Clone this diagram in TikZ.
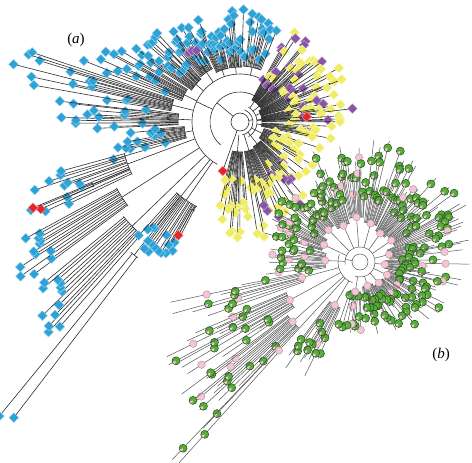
\documentclass[tikz,border=0pt]{standalone}
\usepackage{fontspec}
\setmainfont{Liberation Serif}
\usetikzlibrary{shapes.geometric}

\definecolor{blueC}{RGB}{45,162,215}
\definecolor{yellowC}{RGB}{240,237,100}
\definecolor{purpleC}{RGB}{136,84,166}
\definecolor{redC}{RGB}{232,36,40}
\definecolor{greenC}{RGB}{88,172,58}
\definecolor{gdark}{RGB}{28,78,20}
\definecolor{pinkC}{RGB}{246,196,212}
\definecolor{lineA}{RGB}{45,45,45}
\definecolor{lineB}{RGB}{85,85,85}

\tikzset{
  branch/.style={draw=lineA, line width=0.6pt},
  leafB/.style={diamond, aspect=1, inner sep=0pt, minimum size=10pt, fill=blueC, draw=blueC!45!white, line width=0.4pt},
  leafY/.style={leafB, fill=yellowC, draw=yellowC!45!white},
  leafP/.style={leafB, fill=purpleC, draw=purpleC!45!white},
  leafR/.style={leafB, fill=redC, draw=redC!45!white},
  leafYP/.code={\pgfmathtruncatemacro\pick{rnd<0.22?1:0}\ifnum\pick=1 \tikzset{leafP}\else\tikzset{leafY}\fi},
  leafG/.style={circle, inner sep=0pt, minimum size=8pt, fill=greenC, draw=gdark, line width=0.5pt,
    path picture={\fill[pinkC] (path picture bounding box.center) -- ++(200:5pt) arc[start angle=200, end angle=255, radius=5pt] -- cycle;}},
  knotP/.style={circle, inner sep=0pt, minimum size=7.5pt, fill=pinkC, draw=gray!70!pinkC, line width=0.4pt},
  leafGP/.code={\pgfmathtruncatemacro\pick{rnd<0.15?1:0}\ifnum\pick=1 \tikzset{knotP}\else\tikzset{leafG}\fi},
  knot/.style={coordinate},
  lab/.style={font=\fontsize{15}{17}\selectfont},
}

\newcommand\slack{0}
% centre, first angle, last angle, arc radius, leaves, min radius, max radius, leaf style, stem radius
\newcommand\clade[9]{%
  \pgfmathsetmacro\cmid{(#2+#3)/2}%
  \pgfmathsetmacro\cstem{#4-#9}%
  \draw[branch] (#1) ++(\cmid:#9) -- ++(\cmid:\cstem);
  \draw[branch] (#1) ++(#2:#4) arc[start angle=#2, end angle=#3, radius=#4];
  \foreach \k in {1,...,#5}{%
    \pgfmathsetmacro\cang{#2+(#3-#2)*(\k-0.5+0.6*(rnd-0.5))/#5}%
    \pgfmathsetmacro\clen{#6+(#7-#6)*rnd-#4}%
    \pgfmathsetmacro\cpos{1-\slack*rnd}%
    \draw[branch] (#1) ++(\cang:#4) -- ++(\cang:\clen) node[pos=\cpos, #8] (leaf\k) {};
  }
  \path (#1) ++(\cmid:#4) node[knot] (knot) {};
}

\begin{document}
\begin{tikzpicture}[x=1pt, y=1pt, yscale=-1]
  \useasboundingbox (0,0) rectangle (472,463);
  \pgfmathsetseed{11}

  % tree (a)
  \coordinate (ca) at (240,122);
  \draw[branch] (ca) circle[radius=9];
  \draw[branch] (ca) ++(290:13) arc[start angle=290, end angle=440, radius=13];
  \draw[branch] (ca) ++(300:17) arc[start angle=300, end angle=420, radius=17];
  \draw[branch] (ca) ++(130:30) arc[start angle=130, end angle=320, radius=30];
  \draw[branch] (ca) ++(118:48) arc[start angle=118, end angle=294, radius=48];
  \draw[branch] (ca) ++(220:9) -- ++(220:21);
  \draw[branch] (ca) ++(205:30) -- ++(205:18);
  \draw[branch] (ca) ++(350:9) -- ++(350:4);

  \clade{ca}{163}{176}{56}{14}{75}{135}{leafB}{48}
  \clade{ca}{177}{188}{62}{14}{90}{200}{leafB}{48}
  \clade{ca}{189}{199}{70}{14}{110}{238}{leafB}{48}
  \clade{ca}{200}{212}{62}{15}{80}{170}{leafB}{48}
  \clade{ca}{213}{228}{58}{18}{70}{140}{leafB}{48}
  \clade{ca}{229}{243}{60}{16}{65}{122}{leafB}{48}
  \clade{ca}{244}{258}{55}{16}{65}{116}{leafB}{48}
  \clade{ca}{259}{272}{55}{16}{70}{114}{leafB}{48}
  \clade{ca}{273}{292}{56}{18}{65}{110}{leafB}{48}
  \clade{ca}{232}{240}{66}{3}{80}{88}{leafP}{60}

  \clade{ca}{298}{312}{25}{16}{45}{105}{leafYP}{17}
  \clade{ca}{313}{328}{25}{16}{45}{110}{leafYP}{17}
  \clade{ca}{329}{345}{22}{18}{40}{115}{leafYP}{17}
  \clade{ca}{346}{360}{22}{18}{50}{118}{leafYP}{17}
  \clade{ca}{362}{372}{22}{10}{40}{95}{leafY}{17}
  \clade{ca}{375}{400}{25}{18}{35}{85}{leafY}{13}
  \clade{ca}{402}{422}{28}{18}{50}{105}{leafYP}{13}
  \clade{ca}{423}{442}{30}{18}{60}{122}{leafYP}{13}
  \clade{ca}{445}{465}{30}{18}{55}{118}{leafY}{13}
  \clade{ca}{354}{356}{30}{1}{67}{67}{leafR}{17}
  \clade{ca}{108}{110}{20}{1}{52}{52}{leafR}{9}

  \clade{ca}{154}{165}{120}{12}{170}{230}{leafB}{48}
  \clade{ca}{143}{152}{140}{12}{215}{270}{leafB}{48}
  \clade{ca}{131}{141}{150}{12}{235}{285}{leafB}{48}
  \clade{ca}{127}{130}{170}{2}{370}{383}{leafB}{48}
  \clade{ca}{117}{132}{95}{16}{130}{160}{leafB}{48}
  \clade{ca}{156}{158}{160}{2}{216}{225}{leafR}{120}
  \clade{ca}{117}{119}{100}{1}{129}{129}{leafR}{95}

  % tree (b)
  \renewcommand\slack{0.3}
  \tikzset{branch/.style={draw=lineB, line width=0.5pt}, knot/.style={knotP}}
  \coordinate (cb) at (360,262);
  \draw[branch] (cb) circle[radius=8];
  \draw[branch] (cb) ++(170:15) arc[start angle=170, end angle=470, radius=15];
  \draw[branch] (cb) ++(110:22) arc[start angle=110, end angle=200, radius=22];
  \draw[branch] (cb) ++(190:8) -- ++(190:7);

  \clade{cb}{170}{195}{35}{16}{50}{95}{leafGP}{15}
  \clade{cb}{196}{215}{40}{16}{55}{100}{leafGP}{15}
  \clade{cb}{216}{235}{45}{16}{60}{112}{leafGP}{15}
  \clade{cb}{236}{255}{40}{16}{60}{120}{leafGP}{15}
  \clade{cb}{256}{275}{45}{16}{65}{122}{leafGP}{15}
  \clade{cb}{276}{295}{40}{16}{65}{125}{leafGP}{15}
  \clade{cb}{296}{315}{35}{16}{55}{120}{leafGP}{15}
  \clade{cb}{316}{335}{38}{16}{55}{122}{leafGP}{15}
  \clade{cb}{336}{355}{30}{16}{45}{112}{leafGP}{15}
  \clade{cb}{356}{375}{25}{14}{40}{112}{leafGP}{15}
  \clade{cb}{376}{395}{30}{14}{40}{95}{leafGP}{15}
  \clade{cb}{396}{420}{28}{16}{38}{90}{leafGP}{15}
  \clade{cb}{420}{445}{25}{16}{35}{80}{leafGP}{15}
  \clade{cb}{448}{470}{30}{12}{35}{75}{leafGP}{15}

  \renewcommand\slack{0.45}
  \clade{cb}{160}{170}{60}{8}{110}{200}{leafGP}{22}
  \clade{cb}{145}{158}{80}{14}{120}{220}{leafGP}{22}
  \clade{cb}{133}{144}{90}{14}{130}{230}{leafGP}{22}
  \clade{cb}{131}{134}{120}{2}{262}{280}{leafGP}{22}
  \clade{cb}{113}{128}{50}{12}{80}{130}{leafGP}{22}

  \node[lab] (labA) at (76,40) {(\textit{a})};
  \node[lab] (labB) at (441,355) {(\textit{b})};
\end{tikzpicture}
\end{document}
